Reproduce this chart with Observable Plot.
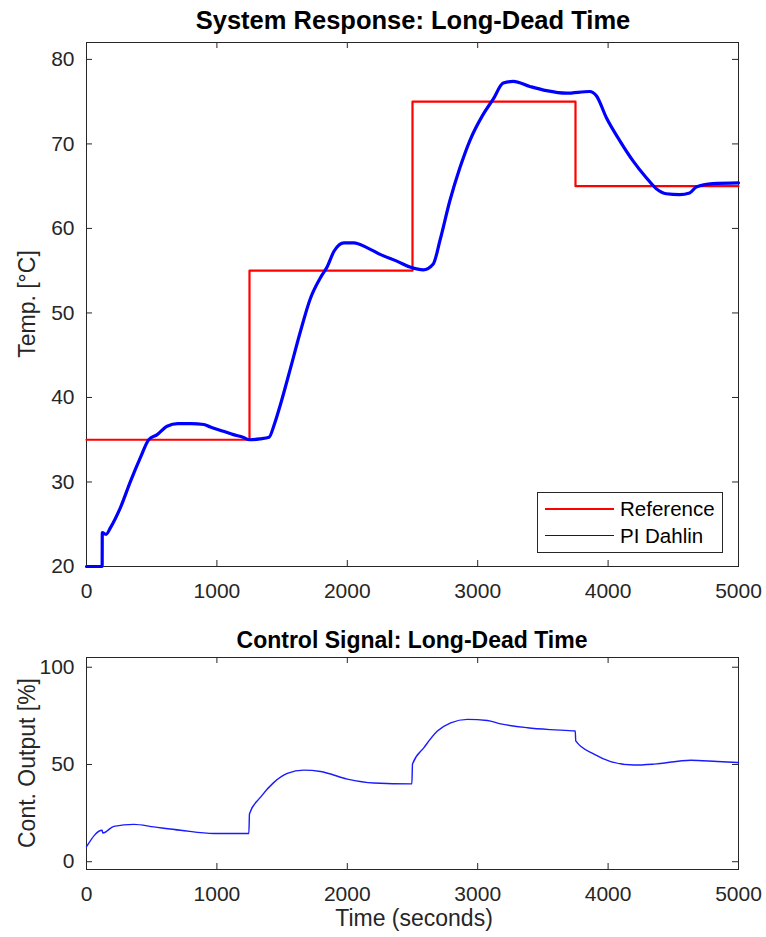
<!DOCTYPE html>
<html>
<head>
<meta charset="utf-8">
<script src="https://cdn.jsdelivr.net/npm/d3@7"></script>
<script src="https://cdn.jsdelivr.net/npm/@observablehq/plot@0.6"></script>
<style>
  body { margin: 0; background: #fff; font-family: "Liberation Sans", Arial, Helvetica, sans-serif; }
  #wrap { position: relative; width: 766px; height: 937px; overflow: hidden; background: #fff; }
  .abs { position: absolute; }
  .title { font-weight: bold; color: #000; white-space: nowrap; transform: translate(-50%, -50%); }
  .lab { font-size: 23px; color: #262626; white-space: nowrap; transform: translate(-50%, -50%); }
  .ylab { font-size: 23px; color: #262626; white-space: nowrap; transform: translate(-50%, -50%) rotate(-90deg); }
  #legend { left: 537px; top: 492px; width: 184px; height: 59px; border: 1px solid #262626; background: #fff; }
  .lgrow { position: absolute; left: 0; height: 28px; width: 184px; }
  .lgline { position: absolute; left: 7px; width: 69px; }
  .lgtext { position: absolute; left: 82px; font-size: 20.5px; color: #000; line-height: 28px; top: 0; }
</style>
</head>
<body>
<div id="wrap">
  <div id="topChart" class="abs" style="left:0;top:30px"></div>
  <div id="botChart" class="abs" style="left:0;top:640px"></div>
  <div class="abs title" style="left:413px;top:20px;font-size:25.5px">System Response: Long-Dead Time</div>
  <div class="abs title" style="left:412px;top:640px;font-size:23px">Control Signal: Long-Dead Time</div>
  <div class="abs ylab" style="left:27px;top:304px">Temp. [°C]</div>
  <div class="abs ylab" style="left:27px;top:763px">Cont. Output [%]</div>
  <div class="abs lab" style="left:414px;top:918px">Time (seconds)</div>
  <div id="legend" class="abs">
    <div class="lgrow" style="top:2px">
      <div class="lgline" style="top:13px;height:2px;background:#ff0000"></div>
      <div class="lgtext">Reference</div>
    </div>
    <div class="lgrow" style="top:29px">
      <div class="lgline" style="top:13px;height:1.3px;background:#0000ff"></div>
      <div class="lgtext">PI Dahlin</div>
    </div>
  </div>
</div>
<script>
// ---- tick values ----
const timeTicks = [0, 1000, 2000, 3000, 4000, 5000];
const tempTicks = [20, 30, 40, 50, 60, 70, 80];
const outTicks = [0, 50, 100];

// ---- Reference setpoint (step-after) ----
const refTime = [0, 1250, 2500, 3750, 5000];
const refTemp = [35, 55, 75, 65, 65];

// ---- PI Dahlin measured temperature ----
const piTime = [0, 120, 121, 150, 184, 261, 338, 414, 477, 542, 618, 700, 800, 900, 950, 1050, 1127, 1200, 1250, 1330, 1400,
  1440, 1488, 1565, 1642, 1719, 1795, 1847, 1898, 1975, 2051, 2154, 2256, 2384, 2486, 2583, 2659, 2711, 2787, 2864, 2940,
  3042, 3119, 3196, 3272, 3400, 3527, 3680, 3859, 3910, 3987, 4089, 4191, 4293, 4370, 4446, 4548, 4625, 4676, 4803, 5000];
const piTemp = [20, 20, 24.0, 23.8, 24.6, 27.0, 30.1, 32.9, 35.0, 35.6, 36.6, 36.9, 36.9, 36.8, 36.5, 36.0, 35.6, 35.3, 35.0, 35.1, 35.3,
  36.8, 39.2, 43.5, 47.9, 51.8, 54.2, 55.5, 57.3, 58.3, 58.3, 57.7, 56.9, 56.1, 55.4, 55.1, 55.8, 58.6, 63.3, 67.2, 70.4,
  73.5, 75.3, 77.2, 77.4, 76.8, 76.3, 76.0, 76.2, 75.7, 73.1, 70.4, 68.0, 66.0, 64.7, 64.1, 64.0, 64.2, 64.9, 65.3, 65.4];

// ---- Controller output ----
const uTime = [0, 120, 125, 210, 363, 517, 721, 977, 1245, 1250, 1335, 1437, 1540, 1667, 1795, 2000, 2204, 2495, 2500,
  2588, 2691, 2793, 2921, 3074, 3176, 3381, 3560, 3748, 3752, 3892, 4020, 4199, 4353, 4634, 4839, 5000];
const uOut = [7.7, 16.2, 14.8, 18.2, 19.2, 17.9, 16.2, 14.5, 14.5, 24.7, 33.2, 40.8, 45.4, 47.1, 46.4, 42.5, 40.5, 40.0, 50.2,
  58.7, 67.2, 71.4, 73.2, 72.6, 70.9, 68.9, 67.9, 67.2, 62.1, 55.3, 51.5, 49.7, 50.2, 52.2, 51.5, 51.0];

const refData = refTime.map((t, i) => ({ t, v: refTemp[i] }));
const piData = piTime.map((t, i) => ({ t, v: piTemp[i] }));
const uData = uTime.map((t, i) => ({ t, v: uOut[i] }));

const font = '"Liberation Sans", Arial, Helvetica, sans-serif';
const W = 766, ML = 86, MR = 28, TICK = 6;

// inward tick marks on all four sides + labels on bottom/left + box
function axes(xTicks, yTicks, frameH, xPad) {
  const frameW = W - ML - MR;
  const tc = "#262626";
  return [
    Plot.tickX(xTicks, { x: d => d, insetTop: frameH - TICK, stroke: tc }),
    Plot.tickX(xTicks, { x: d => d, insetBottom: frameH - TICK, stroke: tc }),
    Plot.tickY(yTicks, { y: d => d, insetRight: frameW - TICK, stroke: tc }),
    Plot.tickY(yTicks, { y: d => d, insetLeft: frameW - TICK, stroke: tc }),
    Plot.axisX(xTicks, { anchor: "bottom", tickSize: 0, tickPadding: xPad, label: null, tickFormat: d => String(d) }),
    Plot.axisY(yTicks, { anchor: "left", tickSize: 0, tickPadding: 12, label: null, tickFormat: d => String(d) }),
    Plot.frame({ stroke: tc, strokeWidth: 1 })
  ];
}

const topH = 570, topMT = 12, topMB = 34;
const topPlot = Plot.plot({
  width: W, height: topH,
  marginTop: topMT, marginBottom: topMB, marginLeft: ML, marginRight: MR,
  style: { fontFamily: font, fontSize: "21px", color: "#262626", background: "transparent", overflow: "visible" },
  x: { domain: [0, 5000] },
  y: { domain: [20, 82] },
  marks: [
    ...axes(timeTicks, tempTicks, topH - topMT - topMB, 17),
    Plot.line(refData, { x: "t", y: "v", curve: "step-after", stroke: "#ff0000", strokeWidth: 2.2 }),
    Plot.line(piData, { x: "t", y: "v", curve: "monotone-x", stroke: "#0000ff", strokeWidth: 3.2 })
  ]
});
document.getElementById("topChart").appendChild(topPlot);

const botH = 275, botMT = 17, botMB = 46;
const botPlot = Plot.plot({
  width: W, height: botH,
  marginTop: botMT, marginBottom: botMB, marginLeft: ML, marginRight: MR,
  style: { fontFamily: font, fontSize: "21px", color: "#262626", background: "transparent", overflow: "visible" },
  x: { domain: [0, 5000] },
  y: { domain: [-4, 105] },
  marks: [
    ...axes(timeTicks, outTicks, botH - botMT - botMB, 17),
    Plot.line(uData, { x: "t", y: "v", curve: "monotone-x", stroke: "#1a1aff", strokeWidth: 1.4 })
  ]
});
document.getElementById("botChart").appendChild(botPlot);
</script>
</body>
</html>
